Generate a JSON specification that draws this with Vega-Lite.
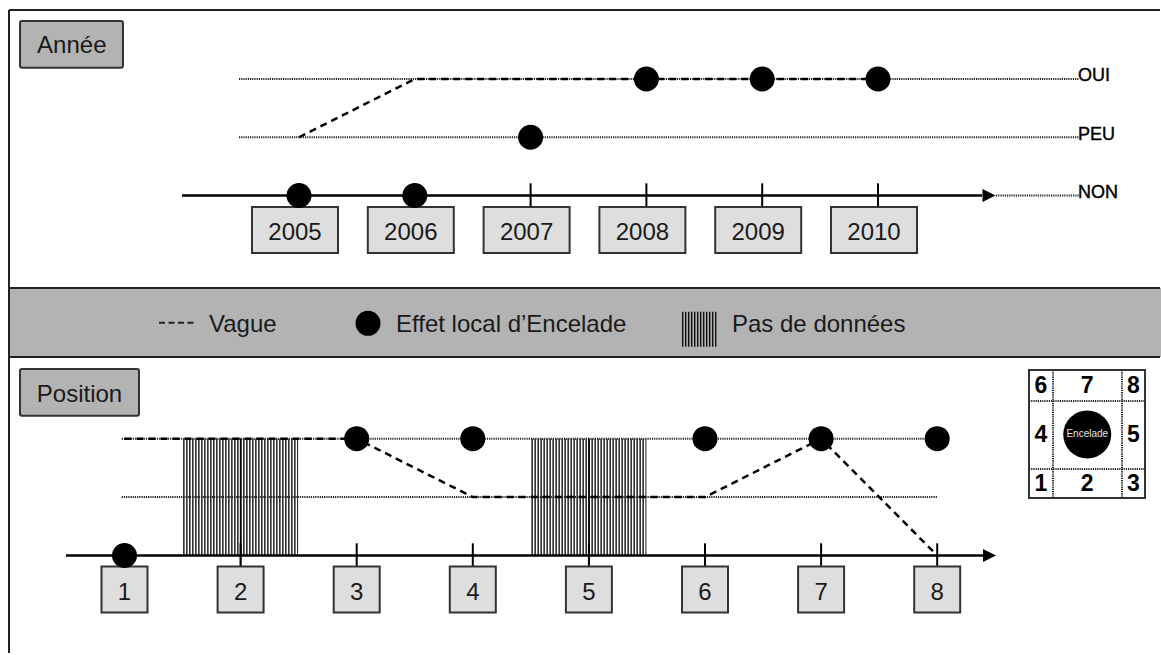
{
  "$schema": "https://vega.github.io/schema/vega-lite/v6.json",
  "padding": {"left": 7, "top": 9, "right": 0, "bottom": 0},
  "bounds": "flush",
  "spacing": 0,
  "background": "#ffffff",
  "config": {
    "axis": {"disable": true},
    "legend": {"disable": true},
    "view": {"stroke": null},
    "font": "Liberation Sans",
    "text": {"font": "Liberation Sans", "color": "#1a1a1a"}
  },
  "datasets": {
    "annees": [
      {"annee": 2005, "etat": "NON", "niveau": 0},
      {"annee": 2006, "etat": "NON", "niveau": 0},
      {"annee": 2007, "etat": "PEU", "niveau": 1},
      {"annee": 2008, "etat": "OUI", "niveau": 2},
      {"annee": 2009, "etat": "OUI", "niveau": 2},
      {"annee": 2010, "etat": "OUI", "niveau": 2}
    ],
    "vague_annees": [
      {"annee": 2005, "niveau": 1},
      {"annee": 2006, "niveau": 2},
      {"annee": 2010, "niveau": 2}
    ],
    "etats": [
      {"etat": "OUI", "niveau": 2},
      {"etat": "PEU", "niveau": 1},
      {"etat": "NON", "niveau": 0}
    ],
    "positions": [
      {"pos": 1, "etat": "NON", "niveau": 0},
      {"pos": 2, "etat": null, "niveau": null},
      {"pos": 3, "etat": "OUI", "niveau": 2},
      {"pos": 4, "etat": "OUI", "niveau": 2},
      {"pos": 5, "etat": null, "niveau": null},
      {"pos": 6, "etat": "OUI", "niveau": 2},
      {"pos": 7, "etat": "OUI", "niveau": 2},
      {"pos": 8, "etat": "OUI", "niveau": 2}
    ],
    "vague_positions": [
      {"pos": 1, "niveau": 2},
      {"pos": 3, "niveau": 2},
      {"pos": 4, "niveau": 1},
      {"pos": 6, "niveau": 1},
      {"pos": 7, "niveau": 2},
      {"pos": 8, "niveau": 0}
    ],
    "cases": [
      {"case": "6", "col": 0, "ligne": 0},
      {"case": "7", "col": 1, "ligne": 0},
      {"case": "8", "col": 2, "ligne": 0},
      {"case": "4", "col": 0, "ligne": 1},
      {"case": "5", "col": 2, "ligne": 1},
      {"case": "1", "col": 0, "ligne": 2},
      {"case": "2", "col": 1, "ligne": 2},
      {"case": "3", "col": 2, "ligne": 2}
    ]
  },
  "vconcat": [
    {
      "width": 1154,
      "height": 279,
      "layer": [
        {
          "data": {"values": [{}]},
          "mark": {"type": "rule", "color": "#222", "strokeWidth": 2},
          "encoding": {
            "x": {"datum": 2002.49568, "type": "quantitative", "scale": {"domain": [2002.48705, 2012.4525], "nice": false, "zero": false}},
            "x2": {"datum": 2012.43523},
            "y": {"datum": 3.18455, "type": "quantitative", "scale": {"domain": [-1.58798, 3.20172], "nice": false, "zero": false}}
          }
        },
        {
          "data": {"values": [{}]},
          "mark": {"type": "rule", "color": "#222", "strokeWidth": 2},
          "encoding": {
            "x": {"datum": 2002.49568, "type": "quantitative"},
            "y": {"datum": -1.58798, "type": "quantitative"},
            "y2": {"datum": 3.18455}
          }
        },
        {
          "data": {"values": [{}]},
          "mark": {"type": "rect", "fill": "#b3b3b3", "stroke": "#333", "strokeWidth": 2, "cornerRadius": 2},
          "encoding": {
            "x": {"datum": 2002.591, "type": "quantitative"},
            "x2": {"datum": 2003.48},
            "y": {"datum": 2.99571, "type": "quantitative"},
            "y2": {"datum": 2.19399}
          }
        },
        {
          "data": {"values": [{"titre": "Année"}]},
          "mark": {"type": "text", "fontSize": 24, "align": "center", "baseline": "alphabetic"},
          "encoding": {
            "x": {"datum": 2003.038, "type": "quantitative"},
            "y": {"datum": 2.4412, "type": "quantitative"},
            "text": {"field": "titre", "type": "nominal"}
          }
        },
        {
          "data": {"name": "etats"},
          "transform": [{"filter": "datum.niveau > 0"}],
          "mark": {"type": "rule", "color": "#222", "strokeWidth": 2, "strokeDash": [1.2, 1]},
          "encoding": {
            "x": {"datum": 2004.48187, "type": "quantitative"},
            "x2": {"datum": 2011.73575},
            "y": {"field": "niveau", "type": "quantitative"}
          }
        },
        {
          "data": {"values": [{}]},
          "mark": {"type": "rule", "color": "#222", "strokeWidth": 2, "strokeDash": [1.2, 1]},
          "encoding": {
            "x": {"datum": 2011.019, "type": "quantitative"},
            "x2": {"datum": 2011.73575},
            "y": {"datum": 0, "type": "quantitative"}
          }
        },
        {
          "data": {"name": "vague_annees"},
          "mark": {"type": "line", "color": "#000", "strokeWidth": 2.5, "strokeDash": [7, 5]},
          "encoding": {
            "x": {"field": "annee", "type": "quantitative"},
            "y": {"field": "niveau", "type": "quantitative"}
          }
        },
        {
          "data": {"values": [{}]},
          "mark": {"type": "rule", "color": "#000", "strokeWidth": 2.5},
          "encoding": {
            "x": {"datum": 2003.98964, "type": "quantitative"},
            "x2": {"datum": 2010.8981},
            "y": {"datum": 0, "type": "quantitative"}
          }
        },
        {
          "data": {"values": [{}]},
          "mark": {"type": "point", "shape": "M-1,-1L1,0L-1,1Z", "size": 169, "filled": true, "color": "#000", "opacity": 1},
          "encoding": {
            "x": {"datum": 2010.95855, "type": "quantitative"},
            "y": {"datum": 0, "type": "quantitative"}
          }
        },
        {
          "data": {"name": "annees"},
          "mark": {"type": "rule", "color": "#000", "strokeWidth": 2},
          "encoding": {
            "x": {"field": "annee", "type": "quantitative"},
            "y": {"datum": 0.209, "type": "quantitative"},
            "y2": {"datum": -0.192}
          }
        },
        {
          "data": {"name": "annees"},
          "mark": {"type": "point", "shape": "M-1,-0.535L1,-0.535L1,0.535L-1,0.535Z", "size": 7396, "filled": true, "fill": "#dedede", "stroke": "#333", "strokeWidth": 2, "opacity": 1, "xOffset": -4, "yOffset": 34.5},
          "encoding": {
            "x": {"field": "annee", "type": "quantitative"},
            "y": {"datum": 0, "type": "quantitative"}
          }
        },
        {
          "data": {"name": "annees"},
          "mark": {"type": "text", "fontSize": 24, "align": "center", "baseline": "alphabetic", "dx": -4, "dy": 44.5},
          "encoding": {
            "x": {"field": "annee", "type": "quantitative"},
            "y": {"datum": 0, "type": "quantitative"},
            "text": {"field": "annee", "type": "nominal"}
          }
        },
        {
          "data": {"name": "annees"},
          "mark": {"type": "point", "shape": "circle", "size": 625, "filled": true, "color": "#000", "opacity": 1},
          "encoding": {
            "x": {"field": "annee", "type": "quantitative"},
            "y": {"field": "niveau", "type": "quantitative"}
          }
        },
        {
          "data": {"name": "etats"},
          "mark": {"type": "text", "fontSize": 18, "align": "left", "baseline": "alphabetic", "dy": 2.4, "color": "#000", "stroke": "#000", "strokeWidth": 0.4},
          "encoding": {
            "x": {"datum": 2011.72712, "type": "quantitative"},
            "y": {"field": "niveau", "type": "quantitative"},
            "text": {"field": "etat", "type": "nominal"}
          }
        }
      ]
    },
    {
      "width": 1154,
      "height": 69,
      "view": {"fill": "#b3b3b3", "stroke": null},
      "layer": [
        {
          "data": {"values": [{}]},
          "mark": {"type": "rule", "color": "#222", "strokeWidth": 2},
          "encoding": {
            "x": {"datum": 2002.49568, "type": "quantitative", "scale": {"domain": [2002.48705, 2012.4525], "nice": false, "zero": false}},
            "x2": {"datum": 2012.43523},
            "y": {"datum": 1, "type": "quantitative", "scale": {"domain": [0, 1], "nice": false, "zero": false}}
          }
        },
        {
          "data": {"values": [{}]},
          "mark": {"type": "rule", "color": "#222", "strokeWidth": 2},
          "encoding": {
            "x": {"datum": 2002.49568, "type": "quantitative"},
            "x2": {"datum": 2012.43523},
            "y": {"datum": 0, "type": "quantitative"}
          }
        },
        {
          "data": {"values": [{}]},
          "mark": {"type": "rule", "color": "#222", "strokeWidth": 2},
          "encoding": {
            "x": {"datum": 2002.49568, "type": "quantitative"},
            "y": {"datum": 0, "type": "quantitative"},
            "y2": {"datum": 1}
          }
        },
        {
          "data": {"values": [{}]},
          "mark": {"type": "rule", "color": "#222", "strokeWidth": 2, "strokeDash": [6, 3.5]},
          "encoding": {
            "x": {"datum": 2003.791, "type": "quantitative"},
            "x2": {"datum": 2004.1105},
            "y": {"datum": 0.4971, "type": "quantitative"}
          }
        },
        {
          "data": {"values": [{"libelle": "Vague"}]},
          "mark": {"type": "text", "fontSize": 24, "align": "left", "baseline": "alphabetic"},
          "encoding": {
            "x": {"datum": 2004.2228, "type": "quantitative"},
            "y": {"datum": 0.36232, "type": "quantitative"},
            "text": {"field": "libelle", "type": "nominal"}
          }
        },
        {
          "data": {"values": [{}]},
          "mark": {"type": "point", "shape": "circle", "size": 625, "filled": true, "color": "#000", "opacity": 1},
          "encoding": {
            "x": {"datum": 2005.5959, "type": "quantitative"},
            "y": {"datum": 0.48841, "type": "quantitative"}
          }
        },
        {
          "data": {"values": [{"libelle": "Effet local d’Encelade"}]},
          "mark": {"type": "text", "fontSize": 24, "align": "left", "baseline": "alphabetic"},
          "encoding": {
            "x": {"datum": 2005.8377, "type": "quantitative"},
            "y": {"datum": 0.36232, "type": "quantitative"},
            "text": {"field": "libelle", "type": "nominal"}
          }
        },
        {
          "data": {"values": [{}]},
          "mark": {"type": "rule", "color": "#111", "strokeWidth": 35, "strokeDash": [1.4, 1.6], "strokeCap": "butt"},
          "encoding": {
            "x": {"datum": 2008.3074, "type": "quantitative"},
            "x2": {"datum": 2008.6097},
            "y": {"datum": 0.4029, "type": "quantitative"}
          }
        },
        {
          "data": {"values": [{"libelle": "Pas de données"}]},
          "mark": {"type": "text", "fontSize": 24, "align": "left", "baseline": "alphabetic"},
          "encoding": {
            "x": {"datum": 2008.7392, "type": "quantitative"},
            "y": {"datum": 0.36232, "type": "quantitative"},
            "text": {"field": "libelle", "type": "nominal"}
          }
        }
      ]
    },
    {
      "width": 1154,
      "height": 298,
      "resolve": {"scale": {"x": "independent", "y": "independent"}},
      "layer": [
        {
          "layer": [
            {
              "data": {"values": [{}]},
              "mark": {"type": "rule", "color": "#222", "strokeWidth": 2},
              "encoding": {
                "x": {"datum": 0.005168, "type": "quantitative", "scale": {"domain": [-0.003445, 9.93626], "nice": false, "zero": false}},
                "y": {"datum": -1.67, "type": "quantitative", "scale": {"domain": [-1.70377, 3.39897], "nice": false, "zero": false}},
                "y2": {"datum": 3.39897}
              }
            },
            {
              "data": {"values": [{}]},
              "mark": {"type": "rect", "fill": "#b3b3b3", "stroke": "#333", "strokeWidth": 2, "cornerRadius": 2},
              "encoding": {
                "x": {"datum": 0.09991, "type": "quantitative"},
                "x2": {"datum": 1.12489},
                "y": {"datum": 3.19349, "type": "quantitative"},
                "y2": {"datum": 2.39384}
              }
            },
            {
              "data": {"values": [{"titre": "Position"}]},
              "mark": {"type": "text", "fontSize": 24, "align": "center", "baseline": "alphabetic"},
              "encoding": {
                "x": {"datum": 0.6124, "type": "quantitative"},
                "y": {"datum": 2.63356, "type": "quantitative"},
                "text": {"field": "titre", "type": "nominal"}
              }
            },
            {
              "data": {"name": "etats"},
              "transform": [{"filter": "datum.niveau > 0"}],
              "mark": {"type": "rule", "color": "#222", "strokeWidth": 2, "strokeDash": [1.2, 1]},
              "encoding": {
                "x": {"datum": 0.97588, "type": "quantitative"},
                "x2": {"datum": 8},
                "y": {"field": "niveau", "type": "quantitative"}
              }
            },
            {
              "data": {"name": "positions"},
              "transform": [{"filter": "datum.niveau === null"}],
              "mark": {"type": "rule", "color": "#222", "strokeWidth": 116.8, "strokeDash": [1.5, 1.5], "strokeCap": "butt", "xOffset": -57.5, "x2Offset": 57.5},
              "encoding": {
                "x": {"field": "pos", "type": "quantitative"},
                "x2": {"field": "pos"},
                "y": {"datum": 1, "type": "quantitative"}
              }
            },
            {
              "data": {"name": "positions"},
              "transform": [{"filter": "datum.niveau === null"}],
              "mark": {"type": "rule", "color": "#000", "strokeWidth": 1.5},
              "encoding": {
                "x": {"field": "pos", "type": "quantitative"},
                "y": {"datum": 2, "type": "quantitative"},
                "y2": {"datum": -0.192}
              }
            },
            {
              "data": {"name": "vague_positions"},
              "mark": {"type": "line", "color": "#000", "strokeWidth": 2.5, "strokeDash": [7, 5]},
              "encoding": {
                "x": {"field": "pos", "type": "quantitative"},
                "y": {"field": "niveau", "type": "quantitative"}
              }
            },
            {
              "data": {"values": [{}]},
              "mark": {"type": "rule", "color": "#000", "strokeWidth": 2.5},
              "encoding": {
                "x": {"datum": 0.49612, "type": "quantitative"},
                "x2": {"datum": 8.39427},
                "y": {"datum": 0, "type": "quantitative"}
              }
            },
            {
              "data": {"values": [{}]},
              "mark": {"type": "point", "shape": "M-1,-1L1,0L-1,1Z", "size": 169, "filled": true, "color": "#000", "opacity": 1},
              "encoding": {
                "x": {"datum": 8.45047, "type": "quantitative"},
                "y": {"datum": 0, "type": "quantitative"}
              }
            },
            {
              "data": {"name": "positions"},
              "mark": {"type": "rule", "color": "#000", "strokeWidth": 2},
              "encoding": {
                "x": {"field": "pos", "type": "quantitative"},
                "y": {"datum": 0.209, "type": "quantitative"},
                "y2": {"datum": -0.192}
              }
            },
            {
              "data": {"name": "positions"},
              "mark": {"type": "point", "shape": "square", "size": 2116, "filled": true, "fill": "#dedede", "stroke": "#333", "strokeWidth": 2, "opacity": 1, "yOffset": 34},
              "encoding": {
                "x": {"field": "pos", "type": "quantitative"},
                "y": {"datum": 0, "type": "quantitative"}
              }
            },
            {
              "data": {"name": "positions"},
              "mark": {"type": "text", "fontSize": 24, "align": "center", "baseline": "alphabetic", "dy": 44.5},
              "encoding": {
                "x": {"field": "pos", "type": "quantitative"},
                "y": {"datum": 0, "type": "quantitative"},
                "text": {"field": "pos", "type": "nominal"}
              }
            },
            {
              "data": {"name": "positions"},
              "transform": [{"filter": "datum.niveau !== null"}],
              "mark": {"type": "point", "shape": "circle", "size": 625, "filled": true, "color": "#000", "opacity": 1},
              "encoding": {
                "x": {"field": "pos", "type": "quantitative"},
                "y": {"field": "niveau", "type": "quantitative"}
              }
            }
          ]
        },
        {
          "layer": [
            {
              "data": {"values": [{}]},
              "mark": {"type": "rect", "fill": "#ffffff", "stroke": "#333", "strokeWidth": 2},
              "encoding": {
                "x": {"datum": -0.2595, "type": "quantitative", "scale": {"domain": [-22.3351, 2.61622], "nice": false, "zero": false}},
                "x2": {"datum": 2.2486},
                "y": {"datum": -0.3163, "type": "quantitative", "scale": {"domain": [-0.58163, 5.5], "reverse": true, "nice": false, "zero": false}},
                "y2": {"datum": 2.2959}
              }
            },
            {
              "data": {"values": [{}]},
              "mark": {"type": "rule", "color": "#222", "strokeWidth": 2, "strokeDash": [1.2, 1]},
              "encoding": {
                "x": {"datum": 0.2595, "type": "quantitative"},
                "y": {"datum": -0.3163, "type": "quantitative"},
                "y2": {"datum": 2.2959}
              }
            },
            {
              "data": {"values": [{}]},
              "mark": {"type": "rule", "color": "#222", "strokeWidth": 2, "strokeDash": [1.2, 1]},
              "encoding": {
                "x": {"datum": 1.7514, "type": "quantitative"},
                "y": {"datum": -0.3163, "type": "quantitative"},
                "y2": {"datum": 2.2959}
              }
            },
            {
              "data": {"values": [{}]},
              "mark": {"type": "rule", "color": "#222", "strokeWidth": 2, "strokeDash": [1.2, 1]},
              "encoding": {
                "x": {"datum": -0.2595, "type": "quantitative"},
                "x2": {"datum": 2.2486},
                "y": {"datum": 0.3163, "type": "quantitative"}
              }
            },
            {
              "data": {"values": [{}]},
              "mark": {"type": "rule", "color": "#222", "strokeWidth": 2, "strokeDash": [1.2, 1]},
              "encoding": {
                "x": {"datum": -0.2595, "type": "quantitative"},
                "x2": {"datum": 2.2486},
                "y": {"datum": 1.7041, "type": "quantitative"}
              }
            },
            {
              "data": {"name": "cases"},
              "mark": {"type": "text", "fontSize": 23, "fontWeight": "bold", "align": "center", "baseline": "middle", "dy": 1, "color": "#000"},
              "encoding": {
                "x": {"field": "col", "type": "quantitative"},
                "y": {"field": "ligne", "type": "quantitative"},
                "text": {"field": "case", "type": "nominal"}
              }
            },
            {
              "data": {"values": [{}]},
              "mark": {"type": "point", "shape": "circle", "size": 2304, "filled": true, "color": "#000", "opacity": 1},
              "encoding": {
                "x": {"datum": 1, "type": "quantitative"},
                "y": {"datum": 1, "type": "quantitative"}
              }
            },
            {
              "data": {"values": [{"nom": "Encelade"}]},
              "mark": {"type": "text", "fontSize": 10, "align": "center", "baseline": "middle", "color": "#e6e6e6"},
              "encoding": {
                "x": {"datum": 1, "type": "quantitative"},
                "y": {"datum": 1, "type": "quantitative"},
                "text": {"field": "nom", "type": "nominal"}
              }
            }
          ]
        }
      ]
    }
  ]
}
